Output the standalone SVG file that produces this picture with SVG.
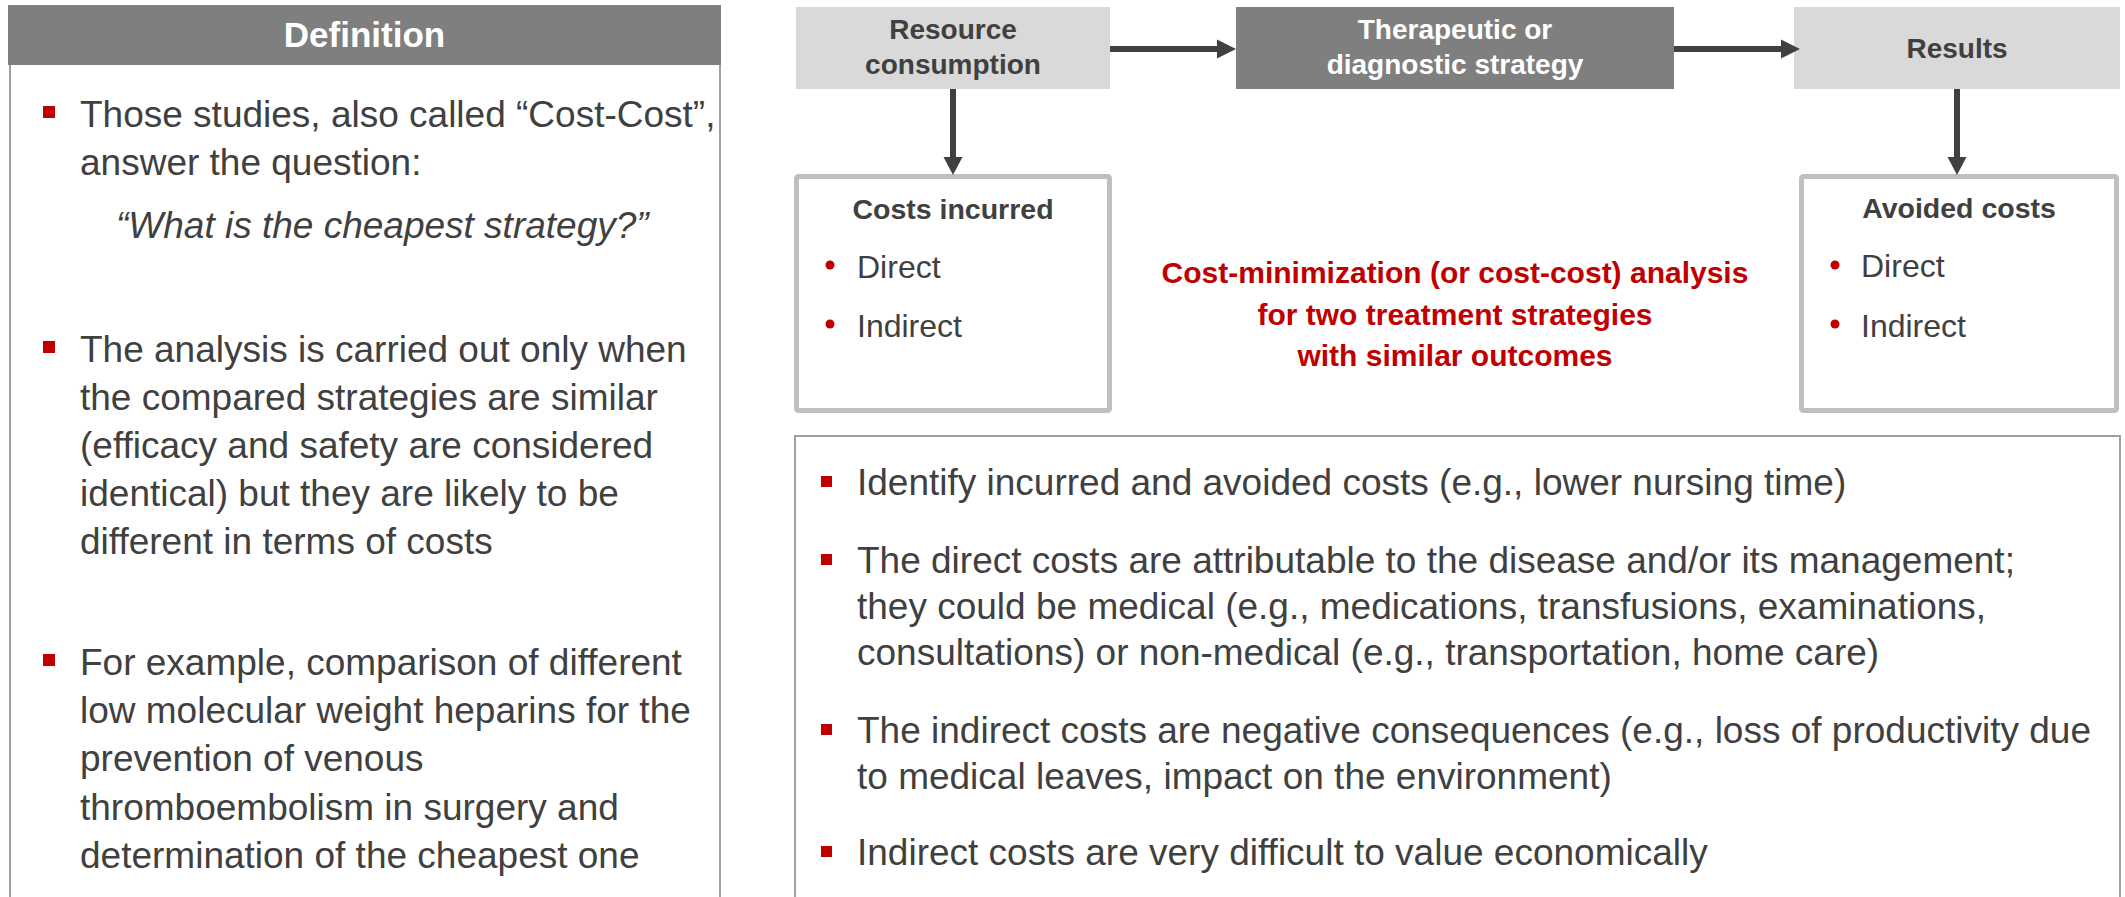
<svg xmlns="http://www.w3.org/2000/svg" width="2125" height="897" viewBox="0 0 2125 897">
<style>
text{font-family:"Liberation Sans",Arial,sans-serif;fill:#404040}
.body{font-size:37px}
.ital{font-size:37px;font-style:italic}
.hdr{font-size:35px;font-weight:bold;fill:#fff}
.box{font-size:28px;font-weight:bold;text-anchor:middle}
.boxw{font-size:28px;font-weight:bold;text-anchor:middle;fill:#fff}
.ttl{font-size:28.5px;font-weight:bold;text-anchor:middle}
.item{font-size:32px}
.red{font-size:30px;font-weight:bold;fill:#c00000;text-anchor:middle}
.sq{fill:#c00000}
.dot{fill:#c00000}
.panel{fill:#fff;stroke:#a0a0a0;stroke-width:2}
.light{fill:#d9d9d9}
.dark{fill:#7f7f7f}
.cbox{fill:#fff;stroke:#bfbfbf;stroke-width:5}
.conn{stroke:#404040;stroke-width:6;fill:none}
.head{fill:#404040}
</style>

<g id="definition-panel">
<rect class="panel" x="10" y="60" width="710" height="880"/>
<rect class="dark" x="8" y="5" width="713" height="60"/>
<text class="hdr" x="364.5" y="47" text-anchor="middle">Definition</text>
<rect class="sq" x="43" y="106" width="12" height="12"/>
<text class="body" x="80" y="127">Those studies, also called “Cost-Cost”,</text>
<text class="body" x="80" y="175">answer the question:</text>
<text class="ital" x="116" y="238">“What is the cheapest strategy?”</text>
<rect class="sq" x="43" y="341" width="12" height="12"/>
<text class="body" x="80" y="362">The analysis is carried out only when</text>
<text class="body" x="80" y="410">the compared strategies are similar</text>
<text class="body" x="80" y="458">(efficacy and safety are considered</text>
<text class="body" x="80" y="506">identical) but they are likely to be</text>
<text class="body" x="80" y="554">different in terms of costs</text>
<rect class="sq" x="43" y="654" width="12" height="12"/>
<text class="body" x="80" y="675">For example, comparison of different</text>
<text class="body" x="80" y="723">low molecular weight heparins for the</text>
<text class="body" x="80" y="771">prevention of venous</text>
<text class="body" x="80" y="820">thromboembolism in surgery and</text>
<text class="body" x="80" y="868">determination of the cheapest one</text>
</g>

<g id="resource-consumption">
<rect class="light" x="796" y="7" width="314" height="82"/>
<text class="box" x="953" y="39">Resource</text>
<text class="box" x="953" y="74">consumption</text>
</g>

<g id="therapeutic-strategy">
<rect class="dark" x="1236" y="7" width="438" height="82"/>
<text class="boxw" x="1455" y="39">Therapeutic or</text>
<text class="boxw" x="1455" y="74">diagnostic strategy</text>
</g>

<g id="results">
<rect class="light" x="1794" y="7" width="326" height="82"/>
<text class="box" x="1957" y="58">Results</text>
</g>

<g id="costs-incurred">
<rect class="cbox" x="796.5" y="176.5" width="313" height="234" rx="2"/>
<text class="ttl" x="953" y="219">Costs incurred</text>
<circle class="dot" cx="830" cy="265" r="4.5"/>
<text class="item" x="857" y="278">Direct</text>
<circle class="dot" cx="830" cy="324" r="4.5"/>
<text class="item" x="857" y="337">Indirect</text>
</g>

<g id="avoided-costs">
<rect class="cbox" x="1801.5" y="176.5" width="315" height="234" rx="2"/>
<text class="ttl" x="1959" y="218">Avoided costs</text>
<circle class="dot" cx="1835" cy="265" r="4.5"/>
<text class="item" x="1861" y="277">Direct</text>
<circle class="dot" cx="1835" cy="324" r="4.5"/>
<text class="item" x="1861" y="337">Indirect</text>
</g>

<g id="analysis-label">
<text class="red" x="1455" y="283">Cost-minimization (or cost-cost) analysis</text>
<text class="red" x="1455" y="325">for two treatment strategies</text>
<text class="red" x="1455" y="366">with similar outcomes</text>
</g>

<g id="notes-panel">
<rect class="panel" x="795" y="436" width="1325" height="500"/>
<rect class="sq" x="821" y="476" width="11" height="11"/>
<text class="body" x="857" y="495">Identify incurred and avoided costs (e.g., lower nursing time)</text>
<rect class="sq" x="821" y="554" width="11" height="11"/>
<text class="body" x="857" y="573">The direct costs are attributable to the disease and/or its management;</text>
<text class="body" x="857" y="619">they could be medical (e.g., medications, transfusions, examinations,</text>
<text class="body" x="857" y="665">consultations) or non-medical (e.g., transportation, home care)</text>
<rect class="sq" x="821" y="724" width="11" height="11"/>
<text class="body" x="857" y="743">The indirect costs are negative consequences (e.g., loss of productivity due</text>
<text class="body" x="857" y="789">to medical leaves, impact on the environment)</text>
<rect class="sq" x="821" y="846" width="11" height="11"/>
<text class="body" x="857" y="865">Indirect costs are very difficult to value economically</text>
</g>

<g id="connectors">
<path class="conn" d="M1110,49 H1219"/>
<polygon class="head" points="1217,39.5 1236,49 1217,58.5"/>
<path class="conn" d="M1674,49 H1783"/>
<polygon class="head" points="1781,39.5 1800,49 1781,58.5"/>
<path class="conn" d="M953,89 V159"/>
<polygon class="head" points="943.5,157 962.5,157 953,175"/>
<path class="conn" d="M1957,89 V159"/>
<polygon class="head" points="1947.5,157 1966.5,157 1957,175"/>
</g>
</svg>
